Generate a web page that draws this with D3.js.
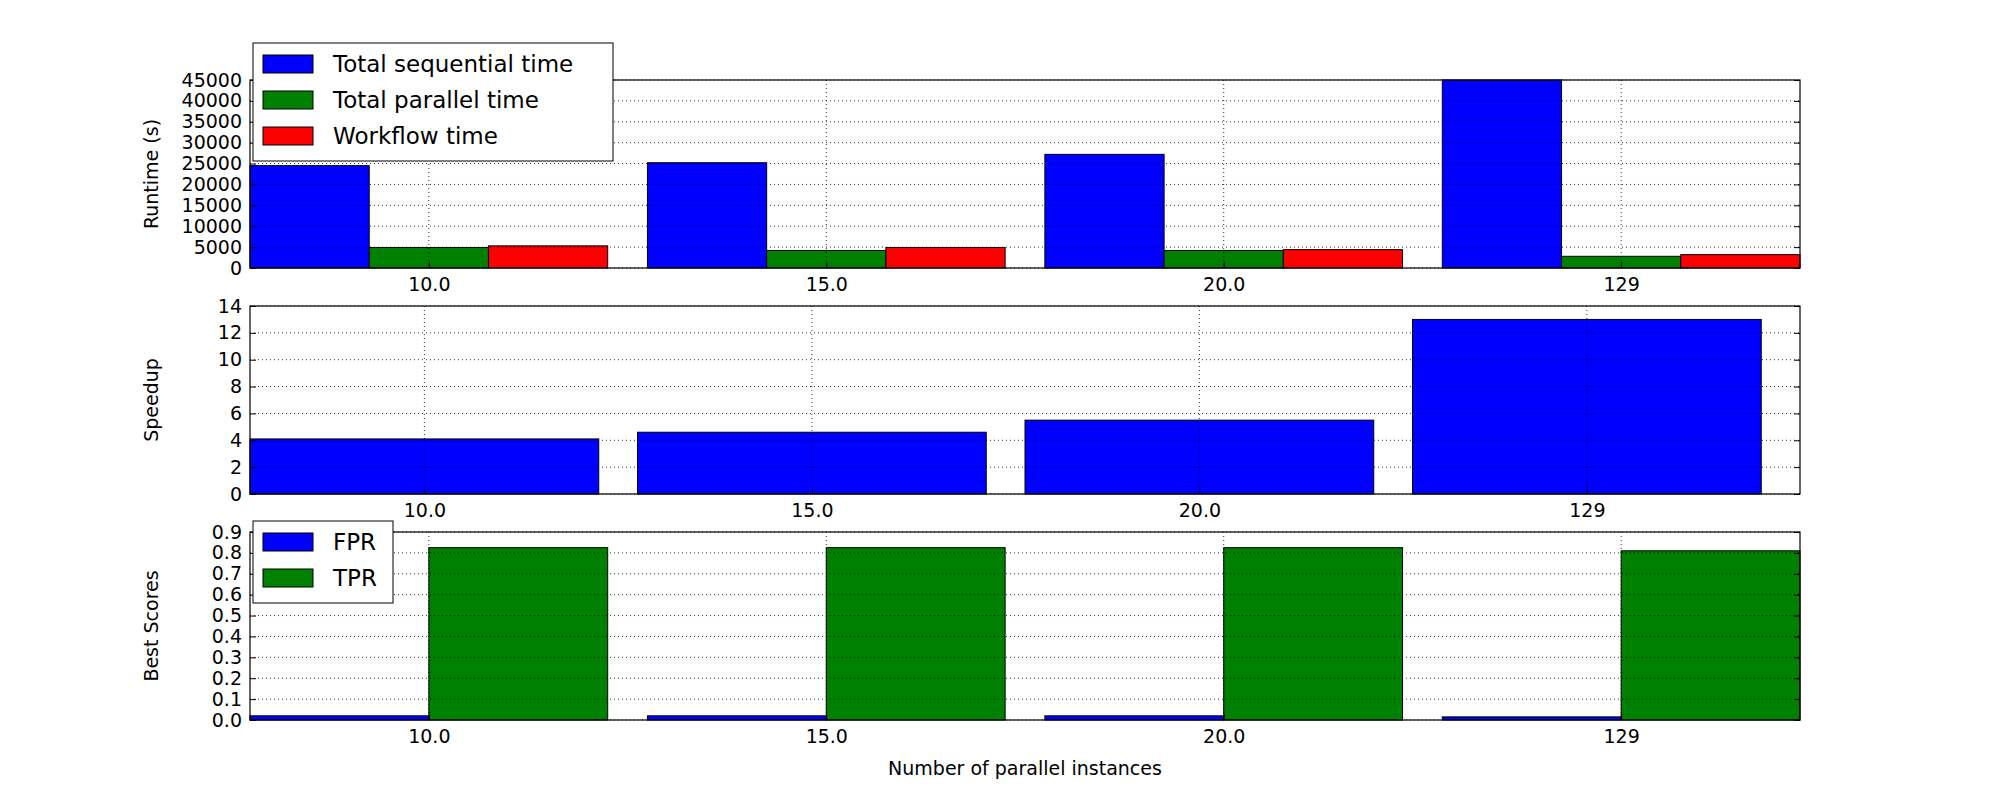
<!DOCTYPE html>
<html><head><meta charset="utf-8">
<script src="https://cdn.jsdelivr.net/npm/d3@7"></script>
<style>body{margin:0;background:#fff}text{font-family:"DejaVu Sans",sans-serif;fill:#000}</style>
</head><body>
<script>
// Data.
const groups = ['10.0', '15.0', '20.0', '129'];
const seqTime = [24500, 25200, 27200, 45000];
const parTime = [4900, 4200, 4200, 2800];
const wfTime = [5300, 4900, 4400, 3200];
const speedup = [4.1, 4.6, 5.5, 13.0];
const fpr = [0.02, 0.02, 0.02, 0.015];
const tpr = [0.825, 0.825, 0.825, 0.81];

const W = 2000, H = 800, L = 250, R = 1800;
const svg = d3.select('body').append('svg').attr('width', W).attr('height', H);

function panel(top, bottom, xdom, ymax, yticks, fmt, ylabel, series) {
  const x = d3.scaleLinear().domain(xdom).range([L, R]);
  const y = d3.scaleLinear().domain([0, ymax]).range([bottom, top]);
  const g = svg.append('g');
  // Bars.
  series.forEach(s => {
    g.selectAll(null).data(s.values).enter().append('rect')
      .attr('x', (d, i) => x(i + s.off))
      .attr('width', x(s.w) - x(0))
      .attr('y', d => y(Math.min(d, ymax)))
      .attr('height', d => y(0) - y(Math.min(d, ymax)))
      .attr('fill', s.color).attr('stroke', '#000').attr('stroke-width', 1);
  });
  // Grid.
  g.selectAll(null).data(yticks).enter().append('line')
    .attr('x1', L).attr('x2', R).attr('y1', d => y(d)).attr('y2', d => y(d))
    .attr('stroke', '#000').attr('stroke-width', 0.8).attr('stroke-dasharray', '1,3');
  g.selectAll(null).data(groups).enter().append('line')
    .attr('x1', (d, i) => x(i)).attr('x2', (d, i) => x(i)).attr('y1', top).attr('y2', bottom)
    .attr('stroke', '#000').attr('stroke-width', 0.8).attr('stroke-dasharray', '1,3');
  // Frame.
  g.append('rect').attr('x', L).attr('y', top).attr('width', R - L).attr('height', bottom - top)
    .attr('fill', 'none').attr('stroke', '#000').attr('stroke-width', 1.2);
  // Axes with inward ticks.
  g.append('g').attr('transform', `translate(${L},0)`)
    .call(d3.axisLeft(y).tickValues(yticks).tickFormat(fmt).tickSizeInner(-6).tickSizeOuter(0).tickPadding(8))
    .call(a => a.select('.domain').remove())
    .call(a => a.selectAll('text').attr('font-size', 19).attr('font-family', 'DejaVu Sans'));
  g.append('g').attr('transform', `translate(${R},0)`)
    .call(d3.axisRight(y).tickValues(yticks).tickFormat('').tickSizeInner(-6).tickSizeOuter(0))
    .call(a => a.select('.domain').remove());
  g.append('g').attr('transform', `translate(0,${bottom})`)
    .call(d3.axisBottom(x).tickValues([0, 1, 2, 3]).tickFormat(i => groups[i]).tickSizeInner(-6).tickSizeOuter(0).tickPadding(10))
    .call(a => a.select('.domain').remove())
    .call(a => a.selectAll('text').attr('font-size', 19).attr('font-family', 'DejaVu Sans'));
  g.append('text').attr('transform', `translate(${L - 92},${(top + bottom) / 2}) rotate(-90)`)
    .attr('text-anchor', 'middle').attr('font-size', 19).text(ylabel);
}

function legend(x0, y0, items, w) {
  const g = svg.append('g').attr('transform', `translate(${x0},${y0})`);
  g.append('rect').attr('width', w).attr('height', items.length * 36 + 10)
    .attr('fill', '#fff').attr('stroke', '#000').attr('stroke-width', 1);
  items.forEach((it, i) => {
    g.append('rect').attr('x', 10).attr('y', 12 + i * 36).attr('width', 50).attr('height', 18)
      .attr('fill', it.color).attr('stroke', '#000');
    g.append('text').attr('x', 80).attr('y', 29 + i * 36).attr('font-size', 23).text(it.name);
  });
}

const yt1 = d3.range(0, 45001, 5000);
panel(80, 268, [-0.45, 3.45], 45000, yt1, d => d, 'Runtime (s)', [
  {values: seqTime, off: -0.45, w: 0.3, color: '#0000ff'},
  {values: parTime, off: -0.15, w: 0.3, color: '#008000'},
  {values: wfTime, off: 0.15, w: 0.3, color: '#ff0000'}
]);
panel(306, 494, [-0.45, 3.55], 14, d3.range(0, 15, 2), d => d, 'Speedup', [
  {values: speedup, off: -0.45, w: 0.9, color: '#0000ff'}
]);
panel(532, 720, [-0.45, 3.45], 0.9, d3.range(0, 10).map(d => d / 10), d3.format('.1f'), 'Best Scores', [
  {values: fpr, off: -0.45, w: 0.45, color: '#0000ff'},
  {values: tpr, off: 0, w: 0.45, color: '#008000'}
]);

legend(253, 43, [{name: 'Total sequential time', color: '#0000ff'}, {name: 'Total parallel time', color: '#008000'}, {name: 'Workflow time', color: '#ff0000'}], 360);
legend(253, 521, [{name: 'FPR', color: '#0000ff'}, {name: 'TPR', color: '#008000'}], 140);

svg.append('text').attr('x', (L + R) / 2).attr('y', 775).attr('text-anchor', 'middle')
  .attr('font-size', 19).text('Number of parallel instances');
</script>
</body></html>
